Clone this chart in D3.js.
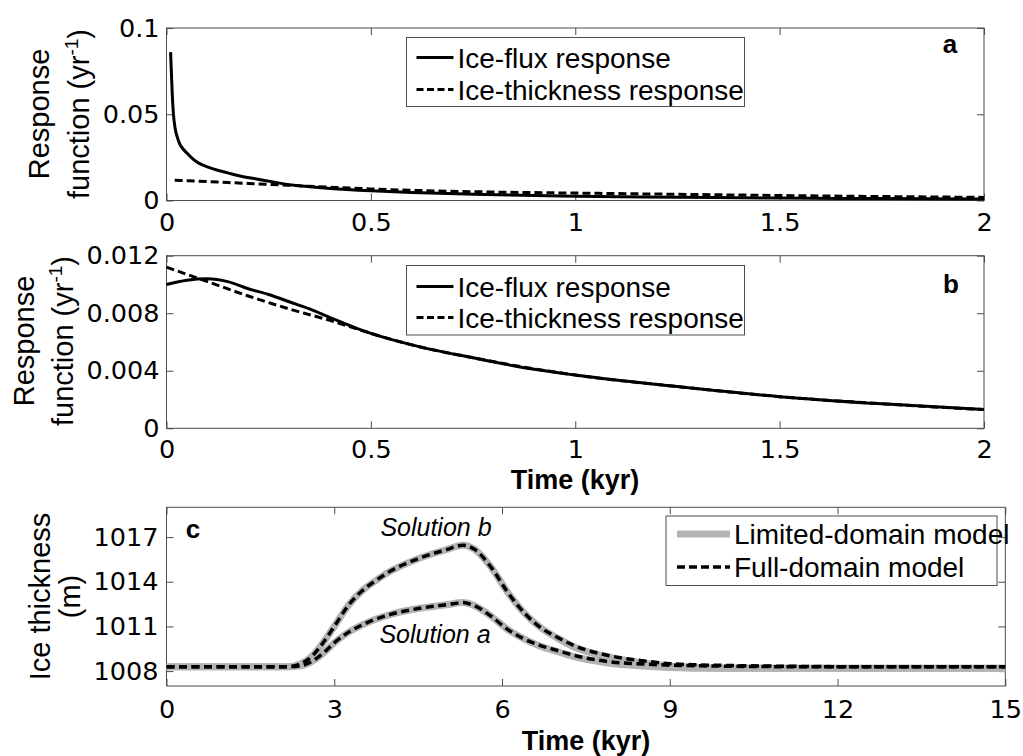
<!DOCTYPE html>
<html>
<head>
<meta charset="utf-8">
<script src="https://cdn.jsdelivr.net/npm/d3@7"></script>
<style>
  body { margin: 0; background: #fff; }
  text { font-family: "Liberation Sans", Arial, sans-serif; fill: #000; }
</style>
</head>
<body>
<svg id="chart" width="1023" height="756"></svg>
<script>
// panel a: response functions, case with steep ice-flux response
const aFluxTime = [0.010, 0.012, 0.014, 0.017, 0.021, 0.026, 0.032, 0.040, 0.050, 0.065, 0.080, 0.100, 0.125, 0.150, 0.180, 0.220, 0.260, 0.300, 0.350, 0.400, 0.500, 0.600, 0.750, 0.900, 1.000, 1.250, 1.500, 1.750, 2.000];
const aFlux = [0.086, 0.074, 0.062, 0.050, 0.042, 0.037, 0.033, 0.030, 0.0275, 0.024, 0.0215, 0.0195, 0.0175, 0.016, 0.0142, 0.0125, 0.0108, 0.0092, 0.0080, 0.0070, 0.0056, 0.0046, 0.0036, 0.0029, 0.0025, 0.0019, 0.0014, 0.0011, 0.0009];
const aThickTime = [0.02, 0.05, 0.1, 0.15, 0.2, 0.3, 0.4, 0.5, 0.6, 0.75, 1.0, 1.25, 1.5, 1.75, 2.0];
const aThick = [0.0118, 0.0115, 0.0110, 0.0104, 0.0099, 0.0088, 0.0077, 0.0067, 0.0059, 0.0051, 0.0043, 0.0036, 0.0029, 0.0023, 0.0018];

// panel b
const bFluxTime = [0, 0.05, 0.1, 0.15, 0.2, 0.25, 0.3, 0.35, 0.4, 0.5, 0.6, 0.75, 0.9, 1.0, 1.25, 1.5, 1.75, 2.0];
const bFlux = [0.0100, 0.0103, 0.0104, 0.0102, 0.0097, 0.0093, 0.0088, 0.0083, 0.0077, 0.0066, 0.0058, 0.0049, 0.0041, 0.0037, 0.0029, 0.0022, 0.0017, 0.0013];
const bThickTime = [0, 0.05, 0.1, 0.2, 0.3, 0.4, 0.5, 0.6, 0.75, 1.0, 1.25, 1.5, 1.75, 2.0];
const bThick = [0.0112, 0.0107, 0.0102, 0.0092, 0.0083, 0.0075, 0.0066, 0.0058, 0.0049, 0.0037, 0.0029, 0.0022, 0.0017, 0.0013];

// panel c: ice thickness (m) against time (kyr)
const cTime = [0, 2.2, 2.4, 2.6, 2.8, 3.0, 3.25, 3.5, 3.75, 4.0, 4.5, 5.0, 5.3, 5.5, 5.8, 6.1, 6.4, 6.7, 7.0, 7.3, 7.9, 8.5, 9.0, 9.5, 10, 11, 12, 13, 14, 15];
const fullB = [1008.3, 1008.3, 1008.5, 1009.0, 1009.9, 1011.0, 1012.4, 1013.4, 1014.1, 1014.7, 1015.55, 1016.15, 1016.45, 1016.2, 1015.0, 1013.3, 1011.9, 1010.9, 1010.25, 1009.7, 1009.05, 1008.7, 1008.5, 1008.42, 1008.38, 1008.33, 1008.3, 1008.3, 1008.3, 1008.3];
const fullA = [1008.3, 1008.3, 1008.35, 1008.65, 1009.2, 1009.9, 1010.6, 1011.1, 1011.5, 1011.8, 1012.2, 1012.45, 1012.6, 1012.4, 1011.7, 1010.8, 1010.15, 1009.7, 1009.37, 1009.05, 1008.64, 1008.48, 1008.4, 1008.36, 1008.33, 1008.3, 1008.3, 1008.3, 1008.3, 1008.3];
const limitedB = [1008.3, 1008.3, 1008.5, 1009.0, 1009.9, 1011.0, 1012.4, 1013.4, 1014.1, 1014.7, 1015.55, 1016.15, 1016.45, 1016.2, 1015.0, 1013.3, 1011.9, 1010.9, 1010.2, 1009.6, 1008.95, 1008.55, 1008.35, 1008.25, 1008.2, 1008.2, 1008.2, 1008.2, 1008.2, 1008.2];
const limitedA = [1008.3, 1008.3, 1008.35, 1008.65, 1009.2, 1009.9, 1010.6, 1011.1, 1011.5, 1011.8, 1012.2, 1012.45, 1012.6, 1012.4, 1011.7, 1010.8, 1010.15, 1009.65, 1009.3, 1008.95, 1008.55, 1008.35, 1008.25, 1008.2, 1008.2, 1008.2, 1008.2, 1008.2, 1008.2, 1008.2];

const abXTicks = [0, 0.5, 1, 1.5, 2];
const aYTicks = [0, 0.05, 0.1];
const bYTicks = [0, 0.004, 0.008, 0.012];
const cXTicks = [0, 3, 6, 9, 12, 15];
const cYTicks = [1008, 1011, 1014, 1017];

const svg = d3.select("#chart");
const grey = "#b3b3b3";
const boxColor = "#4d4d4d";

function zip(xs, ys) {
  return xs.map((x, i) => [x, ys[i]]);
}

// draws box, ticks on four sides and labels; returns scales
function makePanel(p) {
  const x = d3.scaleLinear().domain(p.xDomain).range([p.left, p.right]);
  const y = d3.scaleLinear().domain(p.yDomain).range([p.bottom, p.top]);
  const tick = 7;

  const bottom = svg.append("g")
    .attr("transform", "translate(0," + p.bottom + ")")
    .call(d3.axisBottom(x).tickValues(p.xTicks).tickSizeInner(-tick).tickSizeOuter(0)
      .tickPadding(p.xPad).tickFormat(d3.format("")));
  const top = svg.append("g")
    .attr("transform", "translate(0," + p.top + ")")
    .call(d3.axisTop(x).tickValues(p.xTicks).tickSizeInner(-tick).tickSizeOuter(0).tickFormat(""));
  const left = svg.append("g")
    .attr("transform", "translate(" + p.left + ",0)")
    .call(d3.axisLeft(y).tickValues(p.yTicks).tickSizeInner(-tick).tickSizeOuter(0)
      .tickPadding(p.yPad).tickFormat(p.yFormat));
  const right = svg.append("g")
    .attr("transform", "translate(" + p.right + ",0)")
    .call(d3.axisRight(y).tickValues(p.yTicks).tickSizeInner(-tick).tickSizeOuter(0).tickFormat(""));

  [bottom, top, left, right].forEach(g => {
    g.select(".domain").remove();
    g.selectAll(".tick line").attr("stroke", boxColor);
    g.selectAll("text")
      .style("font-family", "'DejaVu Sans', sans-serif")
      .style("font-size", "25.5px")
      .attr("fill", "#000");
  });

  svg.append("rect")
    .attr("x", p.left).attr("y", p.top)
    .attr("width", p.right - p.left).attr("height", p.bottom - p.top)
    .attr("fill", "none").attr("stroke", boxColor).attr("stroke-width", 1);

  return { x, y };
}

function drawLine(sc, pts, color, width, dash) {
  svg.append("path")
    .datum(pts)
    .attr("fill", "none")
    .attr("stroke", color)
    .attr("stroke-width", width)
    .attr("stroke-dasharray", dash || null)
    .attr("stroke-linejoin", "round")
    .attr("d", d3.line().x(d => sc.x(d[0])).y(d => sc.y(d[1])).curve(d3.curveMonotoneX));
}

function legend(box, items) {
  svg.append("rect")
    .attr("x", box.x).attr("y", box.y).attr("width", box.w).attr("height", box.h)
    .attr("fill", "#fff").attr("stroke", boxColor).attr("stroke-width", 1);
  items.forEach((it, i) => {
    const ly = box.y + box.first + i * box.step;
    svg.append("line")
      .attr("x1", box.x + box.lineX).attr("x2", box.x + box.lineX + box.lineW)
      .attr("y1", ly).attr("y2", ly)
      .attr("stroke", it.color).attr("stroke-width", it.width)
      .attr("stroke-dasharray", it.dash || null);
    svg.append("text")
      .attr("x", box.x + box.lineX + box.lineW + 4)
      .attr("y", ly + 10)
      .style("font-size", "28px")
      .text(it.label);
  });
}

function yLabel(x1, x2, cy, line1, line2, sup) {
  svg.append("text")
    .attr("transform", "translate(" + x1 + "," + cy + ") rotate(-90)")
    .attr("text-anchor", "middle")
    .style("font-size", "29px")
    .text(line1);
  const t = svg.append("text")
    .attr("transform", "translate(" + x2 + "," + cy + ") rotate(-90)")
    .attr("text-anchor", "middle")
    .style("font-size", "29px");
  t.append("tspan").text(line2);
  if (sup) {
    t.append("tspan").attr("dy", -11).style("font-size", "19px").text(sup);
    t.append("tspan").attr("dy", 11).text(")");
  }
}

function panelLetter(x, y, s) {
  svg.append("text")
    .attr("x", x).attr("y", y)
    .attr("text-anchor", "middle")
    .style("font-size", "26px").style("font-weight", "bold")
    .text(s);
}

// ---- panel a ----
const sa = makePanel({
  left: 166.5, right: 984, top: 28, bottom: 200.5,
  xDomain: [0, 2], yDomain: [0, 0.1],
  xTicks: abXTicks, yTicks: aYTicks, xPad: 12, yPad: 7,
  yFormat: d => d === 0 ? "0" : String(d)
});
drawLine(sa, zip(aThickTime, aThick), "#000", 3, "8,4");
drawLine(sa, zip(aFluxTime, aFlux), "#000", 3);
legend({ x: 406.5, y: 37.5, w: 338, h: 69, first: 20, step: 32, lineX: 10, lineW: 37 }, [
  { label: "Ice-flux response", color: "#000", width: 3 },
  { label: "Ice-thickness response", color: "#000", width: 3, dash: "7,3.5" }
]);
panelLetter(950, 53, "a");
yLabel(49, 89, 114, "Response", "function (yr", "-1");

// ---- panel b ----
const sb = makePanel({
  left: 166.5, right: 984, top: 255.7, bottom: 428.3,
  xDomain: [0, 2], yDomain: [0, 0.012],
  xTicks: abXTicks, yTicks: bYTicks, xPad: 12, yPad: 7,
  yFormat: d => d === 0 ? "0" : d3.format(".3f")(d)
});
drawLine(sb, zip(bThickTime, bThick), "#000", 3, "8,4");
drawLine(sb, zip(bFluxTime, bFlux), "#000", 3);
legend({ x: 406.5, y: 265.5, w: 338, h: 69.5, first: 21, step: 31, lineX: 10, lineW: 37 }, [
  { label: "Ice-flux response", color: "#000", width: 3 },
  { label: "Ice-thickness response", color: "#000", width: 3, dash: "7,3.5" }
]);
panelLetter(951, 293, "b");
yLabel(34, 73, 341, "Response", "function (yr", "-1");
svg.append("text")
  .attr("x", 575).attr("y", 489)
  .attr("text-anchor", "middle")
  .style("font-size", "27px").style("font-weight", "bold")
  .text("Time (kyr)");

// ---- panel c ----
const sc = makePanel({
  left: 166.5, right: 1005.3, top: 507.3, bottom: 686,
  xDomain: [0, 15], yDomain: [1007, 1019],
  xTicks: cXTicks, yTicks: cYTicks, xPad: 14, yPad: 8,
  yFormat: d3.format("d")
});
drawLine(sc, zip(cTime, limitedA), grey, 7);
drawLine(sc, zip(cTime, limitedB), grey, 7);
drawLine(sc, zip(cTime, fullA), "#000", 3.5, "8,4.5");
drawLine(sc, zip(cTime, fullB), "#000", 3.5, "8,4.5");
legend({ x: 666, y: 516, w: 331, h: 69.5, first: 18, step: 33, lineX: 11, lineW: 53 }, [
  { label: "Limited-domain model", color: grey, width: 7 },
  { label: "Full-domain model", color: "#000", width: 3.5, dash: "8,4" }
]);
panelLetter(193, 538, "c");
svg.append("text")
  .attr("x", 436).attr("y", 536)
  .attr("text-anchor", "middle")
  .style("font-size", "25px").style("font-style", "italic")
  .text("Solution b");
svg.append("text")
  .attr("x", 435).attr("y", 643)
  .attr("text-anchor", "middle")
  .style("font-size", "25px").style("font-style", "italic")
  .text("Solution a");
yLabel(50, 80, 596.5, "Ice thickness", "(m)");
svg.append("text")
  .attr("x", 586).attr("y", 750)
  .attr("text-anchor", "middle")
  .style("font-size", "27px").style("font-weight", "bold")
  .text("Time (kyr)");
</script>
</body>
</html>
